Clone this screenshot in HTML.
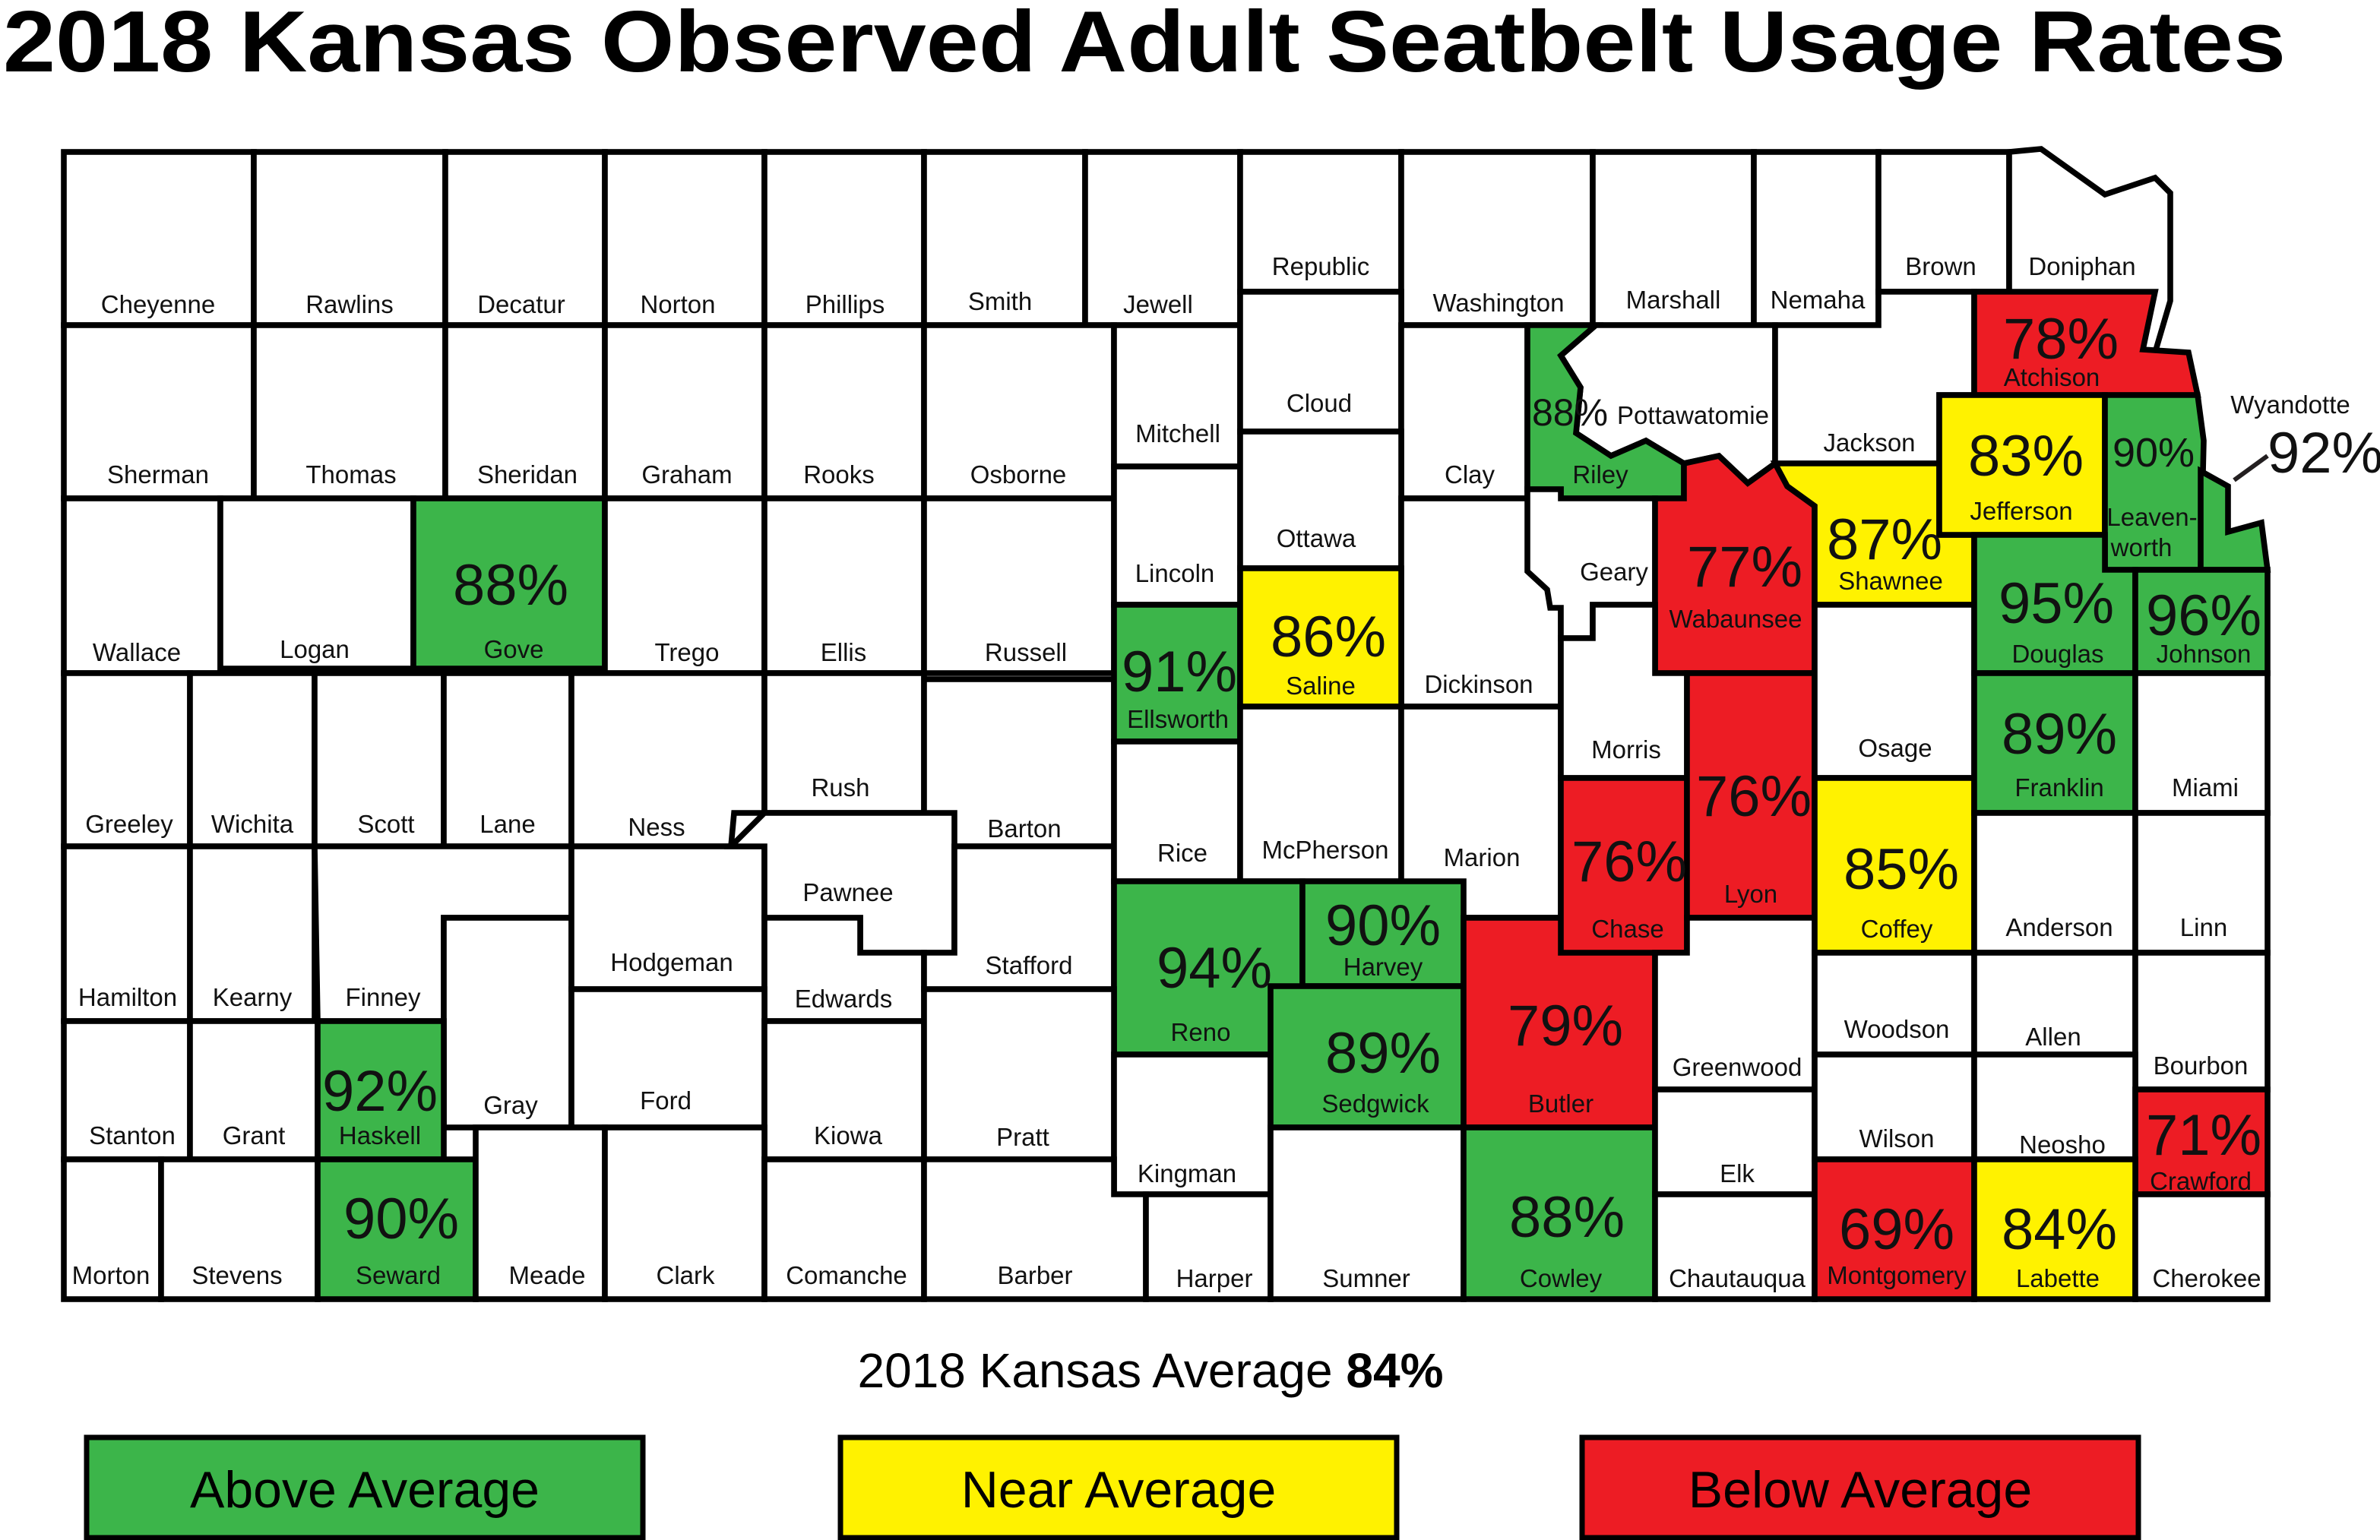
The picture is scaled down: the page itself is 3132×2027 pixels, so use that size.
<!DOCTYPE html>
<html><head><meta charset="utf-8"><style>
html,body{margin:0;padding:0;background:#fff}
svg{display:block}
.c{stroke:#000;stroke-width:3.8;stroke-linejoin:miter;fill:#fff}
.g{fill:#3cb54a}.y{fill:#fff200}.r{fill:#ed1c24}
text{font-family:"Liberation Sans Narrow","Liberation Sans",sans-serif;fill:#111;text-anchor:middle}
.l{font-size:16.5px}
.p{font-size:38px;fill:#231f20}
</style></head><body>
<svg width="3132" height="2027" viewBox="0 0 1566 1013.5" xmlns="http://www.w3.org/2000/svg">
<text x="2" y="47" textLength="1502" lengthAdjust="spacingAndGlyphs" style="text-anchor:start;font-family:'Liberation Sans',sans-serif;font-weight:bold;font-size:57px;fill:#000">2018 Kansas Observed Adult Seatbelt Usage Rates</text>
<g>
<rect class="c" x="42" y="100" width="125" height="114"/>
<rect class="c" x="167" y="100" width="126" height="114"/>
<rect class="c" x="293" y="100" width="105" height="114"/>
<rect class="c" x="398" y="100" width="105" height="114"/>
<rect class="c" x="503" y="100" width="105" height="114"/>
<rect class="c" x="608" y="100" width="106" height="114"/>
<rect class="c" x="714" y="100" width="102" height="114"/>
<rect class="c" x="816" y="100" width="106" height="92"/>
<rect class="c" x="922" y="100" width="126" height="114"/>
<rect class="c" x="1048" y="100" width="106" height="114"/>
<rect class="c" x="1154" y="100" width="82" height="114"/>
<rect class="c" x="1236" y="100" width="86" height="92"/>
<polygon class="c" points="1322,100 1343,98 1385,128 1418,117 1428,127 1428,198 1418,232 1299,232 1299,192 1322,192"/>
<rect class="c" x="42" y="214" width="125" height="114"/>
<rect class="c" x="167" y="214" width="126" height="114"/>
<rect class="c" x="293" y="214" width="105" height="114"/>
<rect class="c" x="398" y="214" width="105" height="114"/>
<rect class="c" x="503" y="214" width="105" height="114"/>
<rect class="c" x="608" y="214" width="125" height="114"/>
<rect class="c" x="733" y="214" width="83" height="93"/>
<rect class="c" x="816" y="192" width="106" height="92"/>
<rect class="c" x="922" y="214" width="83" height="114"/>
<rect class="c" x="42" y="328" width="103" height="115"/>
<rect class="c" x="145" y="328" width="127" height="112"/>
<rect class="c g" x="272" y="328" width="126" height="112"/>
<rect class="c" x="398" y="328" width="105" height="115"/>
<rect class="c" x="503" y="328" width="105" height="115"/>
<rect class="c" x="608" y="328" width="125" height="115"/>
<rect class="c" x="733" y="307" width="83" height="91"/>
<rect class="c" x="816" y="284" width="106" height="90"/>
<rect class="c" x="922" y="328" width="105" height="137"/>
<rect class="c" x="42" y="443" width="83" height="114"/>
<rect class="c" x="125" y="443" width="82" height="114"/>
<rect class="c" x="207" y="443" width="85" height="114"/>
<rect class="c" x="292" y="443" width="84" height="114"/>
<polygon class="c" points="376,443 503,443 503,535 483,535 481,557 376,557"/>
<rect class="c" x="503" y="443" width="105" height="92"/>
<rect class="c" x="608" y="447" width="125" height="110"/>
<rect class="c g" x="733" y="398" width="83" height="90"/>
<rect class="c y" x="816" y="374" width="106" height="91"/>
<rect class="c" x="42" y="557" width="83" height="115"/>
<rect class="c" x="125" y="557" width="82" height="115"/>
<polygon class="c" points="207,557 376,557 376,604 292,604 292,672 209,672"/>
<rect class="c" x="292" y="604" width="84" height="138"/>
<rect class="c" x="376" y="557" width="127" height="94"/>
<polygon class="c" points="481,557 503,535 628,535 628,627 566,627 566,604 503,604 503,557"/>
<polygon class="c" points="503,604 566,604 566,627 608,627 608,672 503,672"/>
<polygon class="c" points="628,557 733,557 733,651 608,651 608,627 628,627"/>
<rect class="c" x="733" y="488" width="83" height="92"/>
<rect class="c" x="816" y="465" width="106" height="115"/>
<rect class="c" x="922" y="465" width="105" height="139"/>
<rect class="c g" x="733" y="580" width="124" height="114"/>
<rect class="c g" x="857" y="580" width="106" height="69"/>
<rect class="c" x="42" y="672" width="83" height="91"/>
<rect class="c" x="125" y="672" width="84" height="91"/>
<rect class="c g" x="209" y="672" width="83" height="91"/>
<rect class="c" x="376" y="651" width="127" height="91"/>
<rect class="c" x="503" y="672" width="105" height="91"/>
<rect class="c" x="608" y="651" width="125" height="112"/>
<rect class="c" x="733" y="694" width="103" height="92"/>
<rect class="c g" x="836" y="649" width="127" height="93"/>
<rect class="c r" x="963" y="604" width="126" height="138"/>
<rect class="c" x="42" y="763" width="64" height="92"/>
<rect class="c" x="106" y="763" width="103" height="92"/>
<rect class="c g" x="209" y="763" width="104" height="92"/>
<rect class="c" x="313" y="742" width="85" height="113"/>
<rect class="c" x="398" y="742" width="105" height="113"/>
<rect class="c" x="503" y="763" width="105" height="92"/>
<polygon class="c" points="608,763 733,763 733,786 754,786 754,855 608,855"/>
<rect class="c" x="754" y="786" width="82" height="69"/>
<rect class="c" x="836" y="742" width="127" height="113"/>
<rect class="c g" x="963" y="742" width="126" height="113"/>
<polygon class="c" points="1050,214 1168,214 1168,305 1150,318 1131,300 1108,305 1083,290 1060,300 1037,285 1040,255 1027,234"/>
<polygon class="c g" points="1005,214 1050,214 1027,234 1040,255 1037,285 1060,300 1083,290 1108,305 1108,328 1027,328 1027,322 1005,322"/>
<polygon class="c" points="1005,322 1027,322 1027,328 1089,328 1089,398 1048,398 1048,420 1027,420 1027,400 1020,400 1018,388 1005,376"/>
<polygon class="c r" points="1089,328 1108,328 1108,305 1131,300 1150,318 1168,305 1176,320 1194,333 1194,443 1089,443"/>
<polygon class="c" points="1027,420 1048,420 1048,398 1089,398 1089,443 1110,443 1110,512 1027,512"/>
<rect class="c r" x="1027" y="512" width="83" height="115"/>
<rect class="c r" x="1110" y="443" width="84" height="161"/>
<polygon class="c" points="1089,627 1110,627 1110,604 1194,604 1194,717 1089,717"/>
<rect class="c" x="1089" y="717" width="105" height="69"/>
<rect class="c" x="1089" y="786" width="105" height="69"/>
<polygon class="c" points="1168,214 1236,214 1236,192 1299,192 1299,260 1276,260 1276,305 1168,305"/>
<polygon class="c y" points="1168,305 1276,305 1276,352 1299,352 1299,398 1194,398 1194,333 1176,320"/>
<rect class="c" x="1194" y="398" width="105" height="114"/>
<rect class="c y" x="1194" y="512" width="105" height="115"/>
<rect class="c" x="1194" y="627" width="105" height="67"/>
<rect class="c" x="1194" y="694" width="105" height="69"/>
<rect class="c r" x="1194" y="763" width="105" height="92"/>
<polygon class="c r" points="1299,192 1418,192 1410,230 1440,232 1446,260 1299,260"/>
<rect class="c y" x="1276" y="260" width="109" height="92"/>
<polygon class="c g" points="1385,260 1446,260 1450,290 1448,375 1385,375"/>
<polygon class="c g" points="1448,310 1466,320 1466,350 1488,344 1492,375 1448,375"/>
<polygon class="c g" points="1299,352 1385,352 1385,375 1405,375 1405,443 1299,443"/>
<rect class="c g" x="1405" y="375" width="87" height="68"/>
<rect class="c g" x="1299" y="443" width="106" height="92"/>
<rect class="c" x="1405" y="443" width="87" height="92"/>
<rect class="c" x="1299" y="535" width="106" height="92"/>
<rect class="c" x="1405" y="535" width="87" height="92"/>
<rect class="c" x="1299" y="627" width="106" height="67"/>
<rect class="c" x="1405" y="627" width="87" height="90"/>
<rect class="c" x="1299" y="694" width="106" height="69"/>
<rect class="c r" x="1405" y="717" width="87" height="69"/>
<rect class="c y" x="1299" y="763" width="106" height="92"/>
<rect class="c" x="1405" y="786" width="87" height="69"/>
</g>
<g class="l">
<text x="104" y="206">Cheyenne</text><text x="230" y="206">Rawlins</text><text x="343" y="206">Decatur</text><text x="446" y="206">Norton</text><text x="556" y="206">Phillips</text><text x="658" y="204">Smith</text><text x="762" y="206">Jewell</text><text x="869" y="181">Republic</text><text x="986" y="205">Washington</text><text x="1101" y="203">Marshall</text><text x="1196" y="203">Nemaha</text><text x="1277" y="181">Brown</text><text x="1370" y="181">Doniphan</text>
<text x="104" y="318">Sherman</text><text x="231" y="318">Thomas</text><text x="347" y="318">Sheridan</text><text x="452" y="318">Graham</text><text x="552" y="318">Rooks</text><text x="670" y="318">Osborne</text><text x="775" y="291">Mitchell</text><text x="868" y="271">Cloud</text><text x="967" y="318">Clay</text>
<text x="90" y="435">Wallace</text><text x="207" y="433">Logan</text><text x="338" y="433">Gove</text><text x="452" y="435">Trego</text><text x="555" y="435">Ellis</text><text x="675" y="435">Russell</text><text x="773" y="383">Lincoln</text><text x="866" y="360">Ottawa</text><text x="973" y="456">Dickinson</text>
<text x="85" y="548">Greeley</text><text x="166" y="548">Wichita</text><text x="254" y="548">Scott</text><text x="334" y="548">Lane</text><text x="432" y="550">Ness</text><text x="553" y="524">Rush</text><text x="674" y="551">Barton</text><text x="775" y="479">Ellsworth</text><text x="869" y="457">Saline</text>
<text x="84" y="662">Hamilton</text><text x="166" y="662">Kearny</text><text x="252" y="662">Finney</text><text x="336" y="733">Gray</text><text x="442" y="639">Hodgeman</text><text x="558" y="593">Pawnee</text><text x="555" y="663">Edwards</text><text x="677" y="641">Stafford</text><text x="778" y="567">Rice</text><text x="872" y="565">McPherson</text><text x="975" y="570">Marion</text><text x="790" y="685">Reno</text><text x="910" y="642">Harvey</text>
<text x="87" y="753">Stanton</text><text x="167" y="753">Grant</text><text x="250" y="753">Haskell</text><text x="438" y="730">Ford</text><text x="558" y="753">Kiowa</text><text x="673" y="754">Pratt</text><text x="781" y="778">Kingman</text><text x="905" y="732">Sedgwick</text><text x="1027" y="732">Butler</text>
<text x="73" y="845">Morton</text><text x="156" y="845">Stevens</text><text x="262" y="845">Seward</text><text x="360" y="845">Meade</text><text x="451" y="845">Clark</text><text x="557" y="845">Comanche</text><text x="681" y="845">Barber</text><text x="799" y="847">Harper</text><text x="899" y="847">Sumner</text><text x="1027" y="847">Cowley</text>
<text x="1053" y="318">Riley</text><text x="1114" y="279">Pottawatomie</text><text x="1062" y="382">Geary</text><text x="1142" y="413">Wabaunsee</text><text x="1070" y="499">Morris</text><text x="1071" y="617">Chase</text><text x="1152" y="594">Lyon</text><text x="1143" y="708">Greenwood</text><text x="1143" y="778">Elk</text><text x="1143" y="847">Chautauqua</text>
<text x="1230" y="297">Jackson</text><text x="1244" y="388">Shawnee</text><text x="1247" y="498">Osage</text><text x="1248" y="617">Coffey</text><text x="1248" y="683">Woodson</text><text x="1248" y="755">Wilson</text><text x="1248" y="845">Montgomery</text>
<text x="1350" y="254">Atchison</text><text x="1330" y="342">Jefferson</text><text x="1416" y="346">Leaven-</text><text x="1409" y="366">worth</text><text x="1507" y="272">Wyandotte</text><text x="1354" y="436">Douglas</text><text x="1450" y="436">Johnson</text><text x="1355" y="524">Franklin</text><text x="1451" y="524">Miami</text><text x="1355" y="616">Anderson</text><text x="1450" y="616">Linn</text><text x="1351" y="688">Allen</text><text x="1448" y="707">Bourbon</text><text x="1357" y="759">Neosho</text><text x="1448" y="783">Crawford</text><text x="1354" y="847">Labette</text><text x="1452" y="847">Cherokee</text>
</g>
<g class="p">
<text x="336" y="398">88%</text><text x="776" y="455">91%</text><text x="874" y="432">86%</text><text x="799" y="650">94%</text><text x="910" y="622">90%</text><text x="250" y="731">92%</text><text x="264" y="815">90%</text><text x="910" y="706">89%</text><text x="1030" y="688">79%</text><text x="1031" y="814">88%</text>
<text x="1033" y="280" style="font-size:25px">88%</text><text x="1148" y="386">77%</text><text x="1072" y="580">76%</text><text x="1154" y="537">76%</text><text x="1240" y="368">87%</text><text x="1251" y="585">85%</text><text x="1248" y="822">69%</text>
<text x="1356" y="236">78%</text><text x="1333" y="313">83%</text><text x="1417" y="307" style="font-size:27px">90%</text><text x="1353" y="410">95%</text><text x="1450" y="418">96%</text><text x="1355" y="496">89%</text><text x="1355" y="822">84%</text><text x="1450" y="760">71%</text>
<text x="1530" y="311">92%</text>
</g>
<line x1="1470" y1="316" x2="1492" y2="300" stroke="#231f20" stroke-width="3"/>
<text x="757" y="913" style="font-family:'Liberation Sans',sans-serif;font-size:32px;fill:#000">2018 Kansas Average <tspan font-weight="bold">84%</tspan></text>
<rect x="57" y="946" width="366" height="66" fill="#3cb54a" stroke="#000" stroke-width="3.5"/>
<rect x="553" y="946" width="366" height="66" fill="#fff200" stroke="#000" stroke-width="3.5"/>
<rect x="1041" y="946" width="366" height="66" fill="#ed1c24" stroke="#000" stroke-width="3.5"/>
<g style="font-size:34px">
<text x="240" y="992" style="font-family:'Liberation Sans',sans-serif;fill:#000">Above Average</text>
<text x="736" y="992" style="font-family:'Liberation Sans',sans-serif;fill:#000">Near Average</text>
<text x="1224" y="992" style="font-family:'Liberation Sans',sans-serif;fill:#000">Below Average</text>
</g>
</svg>
</body></html>
